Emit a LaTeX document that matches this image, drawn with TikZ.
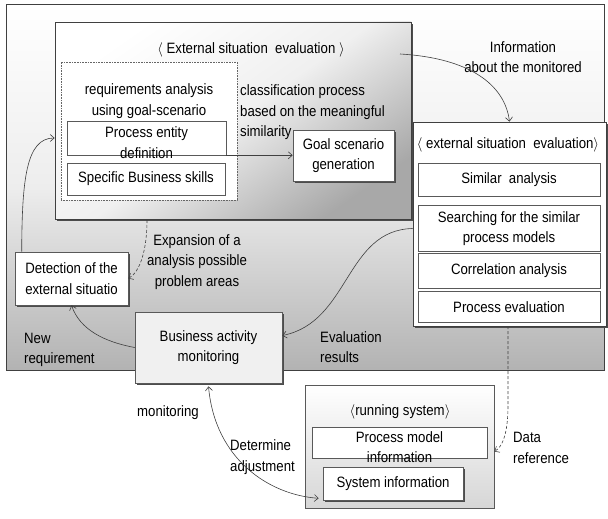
\documentclass[tikz,border=0pt]{standalone}
\usepackage{fontspec}
\setmainfont{Liberation Sans}[FakeStretch=0.88]
\usetikzlibrary{arrows.meta,shadows}
\begin{document}
\begin{tikzpicture}[x=1pt,y=-1pt,
  every node/.style={font=\fontsize{15}{20.5}\selectfont, inner sep=0pt},
  txt/.style={align=center},
  ltxt/.style={align=left, anchor=west},
  frame/.style={draw=black!75, line width=0.7pt},
  box/.style={draw=black!65, fill=white, line width=0.6pt, align=center},
  shd/.style={drop shadow={shadow xshift=1.6pt, shadow yshift=-1.8pt, fill=black!70, opacity=1}},
  conn/.style={draw=black!75, line width=0.6pt, -{Straight Barb[length=4pt,width=7pt]}},
  conn2/.style={draw=black!75, line width=0.6pt, {Straight Barb[length=4pt,width=7pt]}-{Straight Barb[length=4pt,width=7pt]}},
]
\useasboundingbox (0,0) rectangle (608,519);

% outer frame
\node[frame, minimum width=598pt, minimum height=366pt, top color=white, bottom color=black!30, middle color=black!7, shading angle=0] (outer) at (305,187) {};

% inner evaluation box
\node[frame, shd, minimum width=356pt, minimum height=197pt, top color=white, bottom color=black!34, middle color=black!6, shading angle=35] (inner) at (233,120.5) {};
\node[txt] (title1) at (251,50) {$\langle$\ External situation\ \ evaluation\ $\rangle$};

\node[draw=black!60, densely dotted, fill=white, line width=0.6pt, minimum width=176pt, minimum height=138pt] (req) at (149,131) {};
\node[txt] (reqt) at (149,101) {requirements analysis\\using goal-scenario};
\node[box, minimum width=159pt, minimum height=34pt] (ped) at (146.5,138) {};
\node[txt] (pedt) at (146.5,142.5) {Process entity\\definition};
\node[box, minimum width=158pt, minimum height=32pt] (sbs) at (146,179) {Specific Business skills};

\node[ltxt] (cls) at (240,112.5) {classification process\\based on the meaningful\\similarity};
\node[box, shd, minimum width=101pt, minimum height=51pt] (goal) at (343.5,155.5) {Goal scenario\\generation};

% right evaluation box
\node[box, shd, draw=black!75, minimum width=193pt, minimum height=204pt] (rbox) at (509.5,224) {};
\node[txt] (title2) at (508,145) {$\langle$\ external situation\ \ evaluation$\rangle$};
\node[box, minimum width=182pt, minimum height=33pt] (sim) at (509,179.5) {Similar\ \ analysis};
\node[box, minimum width=182pt, minimum height=46pt] (srch) at (509,228.5) {Searching for the similar\\process models};
\node[box, minimum width=182pt, minimum height=35pt] (corr) at (509,270.5) {Correlation analysis};
\node[box, minimum width=182pt, minimum height=31pt] (peval) at (509,307) {Process evaluation};

\node[txt] (info) at (523,57) {Information\\about the monitored};

% left / bottom nodes
\node[box, shd, minimum width=113pt, minimum height=53pt] (det) at (71.5,278.5) {Detection of the\\external situatio};
\node[txt] (exp) at (197,262) {Expansion of a\\analysis possible\\problem areas};
\node[ltxt] (newr) at (24,350) {New\\requirement};
\node[box, shd, fill=black!6, minimum width=147pt, minimum height=71pt] (bam) at (208.5,347.5) {Business activity\\monitoring};
\node[ltxt] (evr) at (320,347) {Evaluation\\results};

% running system
\node[frame, draw=black!65, minimum width=189pt, minimum height=123pt, top color=white, bottom color=black!16, shading angle=0] (rsys) at (399.5,446.5) {};
\node[txt] (title3) at (400,412) {$\langle$running system$\rangle$};
\node[box, minimum width=175pt, minimum height=31pt] (pmi) at (399.5,442.5) {};
\node[txt] (pmit) at (399.5,447) {Process model\\information};
\node[box, shd, minimum width=140pt, minimum height=33pt] (si) at (393,483.5) {System information};

\node[txt] (mon) at (168,413) {monitoring};
\node[ltxt] (detadj) at (230,457) {Determine\\adjustment};
\node[ltxt] (dref) at (513,448) {Data\\reference};

% connectors
\coordinate (infoS) at (400,54);
\coordinate (expS) at (147,220);
\coordinate (drS) at (508,326);

\draw[conn] (ped.south east) -- (ped.south east -| goal.west);
\draw[conn] (infoS) .. controls (470,58) and (505,85) .. (rbox.north);
\draw[conn, densely dashed] (expS) .. controls (147,250) and (140,272) .. (det.east);
\draw[conn] ([xshift=7pt]det.north west) .. controls (22,180) and (26,138) .. (inner.west |- ped.west);
\draw[conn] (bam.west) .. controls (105,342) and (80,330) .. (det.south);
\draw[conn] (rbox.west |- srch.west) .. controls (345,230) and (350,322) .. ([yshift=12pt]bam.east);
\draw[conn, densely dashed] (drS) -- (508,405) .. controls (508,435) and (502,447) .. ([yshift=-5pt]rsys.east);
\draw[conn2] ([yshift=-3pt]bam.south) .. controls (215,460) and (270,495) .. ([xshift=-4pt,yshift=2pt]si.south west);
\end{tikzpicture}
\end{document}
